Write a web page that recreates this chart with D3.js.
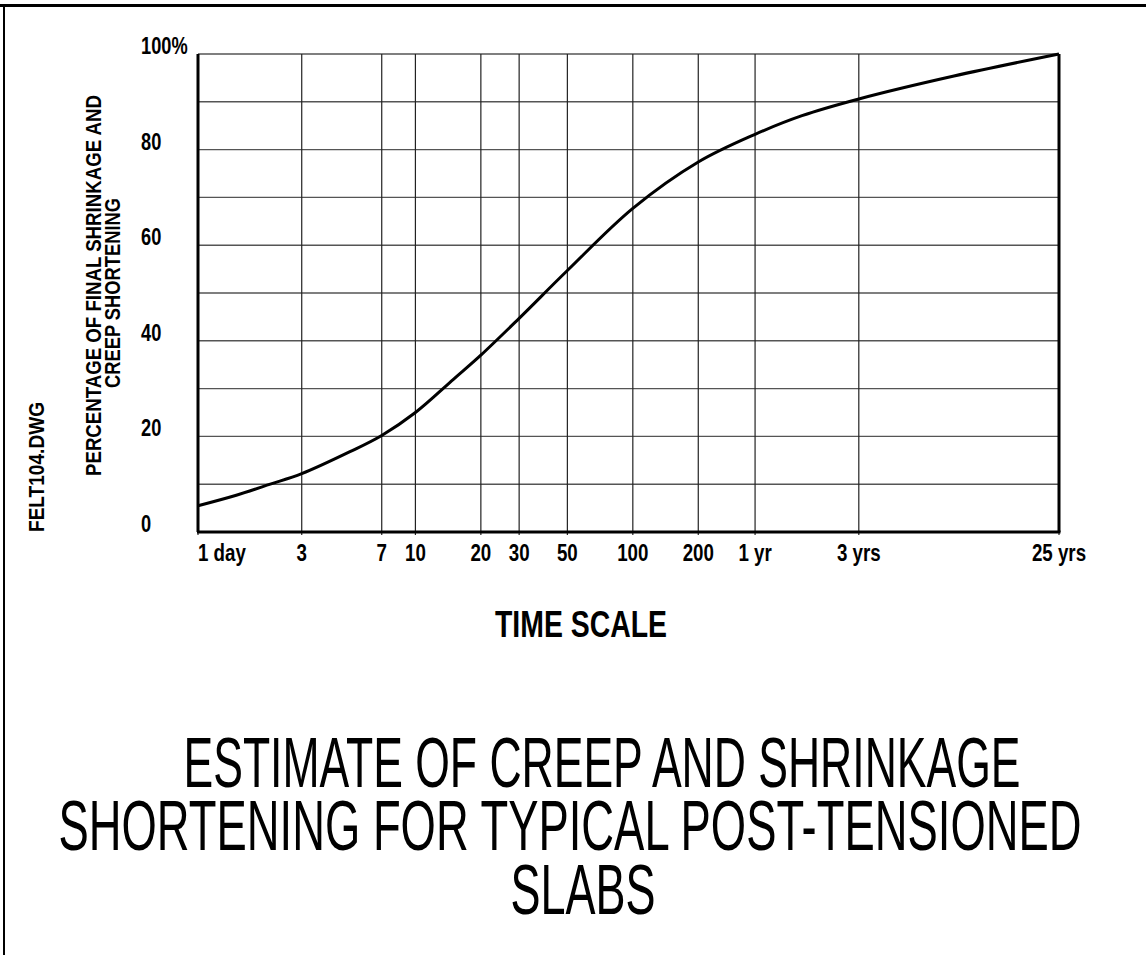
<!DOCTYPE html>
<html><head><meta charset="utf-8">
<script src="https://cdn.jsdelivr.net/npm/d3@7"></script>
<style>
html,body{margin:0;padding:0;background:#fff;}
svg{display:block;}
text{font-family:"Liberation Sans",Arial,sans-serif;fill:#000;}
</style></head>
<body>
<script>
// ---- data ----
const days = [1, 1.5, 2.15, 3, 5, 7, 10, 15, 20, 30, 50, 100, 200, 365, 600, 1095, 3000, 9125];
const pct  = [5.5, 7.7, 10, 12.2, 16.8, 20.2, 25, 32, 37, 44.7, 54.7, 67.7, 77.4, 83.2, 87.1, 90.6, 95.4, 100];
const xTickValues = [1, 3, 7, 10, 20, 30, 50, 100, 200, 365, 1095, 9125];
const xTickLabels = ["1 day", "3", "7", "10", "20", "30", "50", "100", "200", "1 yr", "3 yrs", "25 yrs"];
const yTickValues = [0, 20, 40, 60, 80, 100];
const yTickLabels = ["0", "20", "40", "60", "80", "100%"];
const yGridValues = [0,10,20,30,40,50,60,70,80,90,100];
const yTitle = ["PERCENTAGE OF FINAL SHRINKAGE AND", "CREEP SHORTENING"];
const xTitle = "TIME SCALE";
const fileName = "FELT104.DWG";
const mainTitle = ["ESTIMATE OF CREEP AND SHRINKAGE", "SHORTENING FOR TYPICAL POST-TENSIONED", "SLABS"];

const W = 1146, H = 955;
const svg = d3.select("body").append("svg").attr("width", W).attr("height", H);

const L = 198, R = 1059, T = 54, B = 532;
const x = d3.scaleLog().domain([1, 9125]).range([L, R]);
const y = d3.scaleLinear().domain([0, 100]).range([B, T]);

function condense(sel, f) {
  sel.each(function(){ const n = this.getComputedTextLength(); d3.select(this).attr("textLength", n*f).attr("lengthAdjust","spacingAndGlyphs"); });
  return sel;
}

// drawing sheet border
svg.append("line").attr("x1",0).attr("x2",W).attr("y1",5.5).attr("y2",5.5).attr("stroke","#000").attr("stroke-width",3);
svg.append("line").attr("x1",4).attr("x2",4).attr("y1",5).attr("y2",H).attr("stroke","#000").attr("stroke-width",2);

// grid
svg.append("g").selectAll("line").data(yGridValues).join("line")
  .attr("x1", L).attr("x2", R).attr("y1", d=>y(d)).attr("y2", d=>y(d))
  .attr("stroke", "#555").attr("stroke-width", 1.4);
svg.append("g").selectAll("line").data(xTickValues).join("line")
  .attr("x1", d=>x(d)).attr("x2", d=>x(d)).attr("y1", T).attr("y2", B+3)
  .attr("stroke", "#222").attr("stroke-width", 1.2);

// axes frame
svg.append("line").attr("x1",L).attr("x2",L).attr("y1",T).attr("y2",B).attr("stroke","#000").attr("stroke-width",3);
svg.append("line").attr("x1",L-1).attr("x2",R+1.5).attr("y1",B).attr("y2",B).attr("stroke","#000").attr("stroke-width",3);
svg.append("line").attr("x1",R).attr("x2",R).attr("y1",T).attr("y2",B).attr("stroke","#000").attr("stroke-width",3);

// curve
const line = d3.line().x((d,i)=>x(days[i])).y((d,i)=>y(pct[i])).curve(d3.curveCatmullRom.alpha(0.5));
svg.append("path").attr("d", line(days)).attr("fill","none").attr("stroke","#000").attr("stroke-width",3);

// y tick labels
condense(svg.append("g").selectAll("text").data(yTickValues).join("text")
  .attr("x", 141).attr("y", d=>y(d)).attr("font-size", 24).attr("font-weight","bold")
  .text((d,i)=>yTickLabels[i]), 0.76);

// x tick labels
condense(svg.append("g").selectAll("text").data(xTickValues).join("text")
  .attr("x", d=>x(d)).attr("y", 561).attr("font-size", 24).attr("font-weight","bold")
  .attr("text-anchor", (d,i)=> i===0 ? "start" : "middle")
  .text((d,i)=>xTickLabels[i]), 0.78);

// y title
const ytPos = [[101,285.5,381],[120,293,190]];
svg.append("g").selectAll("text").data(yTitle).join("text")
  .attr("transform", (d,i)=> `translate(${ytPos[i][0]},${ytPos[i][1]}) rotate(-90)`)
  .attr("text-anchor","middle").attr("font-size",22).attr("font-weight","bold")
  .attr("textLength",(d,i)=>ytPos[i][2]).attr("lengthAdjust","spacingAndGlyphs").text(d=>d);

// x title
svg.append("text").attr("x", 581).attr("y", 637).attr("text-anchor","middle")
  .attr("font-size", 36).attr("font-weight","bold").attr("textLength",172).attr("lengthAdjust","spacingAndGlyphs").text(xTitle);

// file name
svg.append("text").attr("transform","translate(44,467) rotate(-90)").attr("text-anchor","middle")
  .attr("font-size",22).attr("font-weight","bold").attr("textLength",130).attr("lengthAdjust","spacingAndGlyphs").text(fileName);

// main title (tall condensed lettering)
const tx = [602, 570, 583], tw = [837, 1023, 145], ty = [787, 850, 914];
svg.append("g").selectAll("text").data(mainTitle).join("text")
  .attr("transform",(d,i)=>`translate(${tx[i]},${ty[i]}) scale(1,1.75)`)
  .attr("font-size",40).attr("text-anchor","middle")
  .attr("textLength",(d,i)=>tw[i]).attr("lengthAdjust","spacingAndGlyphs").text(d=>d);
</script>
</body></html>
